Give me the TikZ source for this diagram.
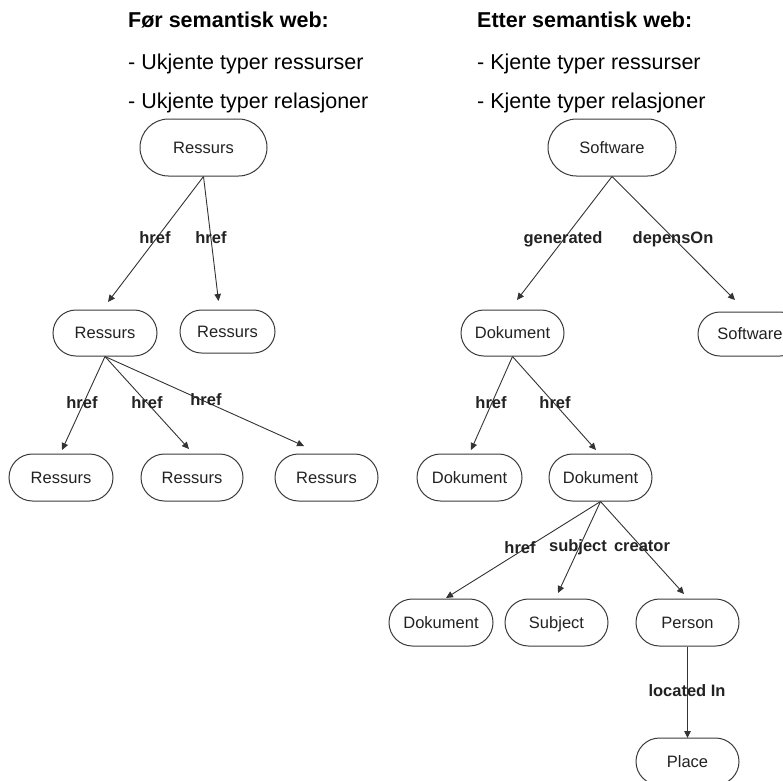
\documentclass[tikz,border=0pt]{standalone}
\usepackage{fontspec}
\setmainfont{Liberation Sans}
\usetikzlibrary{shapes.misc,arrows.meta}
\definecolor{linegray}{HTML}{333333}
\definecolor{boxgray}{HTML}{3A3A3A}
\definecolor{txtgray}{HTML}{222222}
\begin{document}
\begin{tikzpicture}[x=1pt,y=-1pt,
  heading/.style={anchor=west,inner sep=0pt,text height=15.4pt,text depth=0pt,
    font=\fontsize{21.5}{24}\selectfont},
  resbox/.style={rounded rectangle,draw=boxgray,line width=1pt,inner sep=0pt,
    text=txtgray,text height=11.8pt,text depth=0pt,
    font=\fontsize{16.5}{19}\selectfont},
  rel/.style={inner sep=0pt,text height=11.8pt,text depth=0pt,
    font=\fontsize{16.5}{19}\selectfont\bfseries,text=txtgray},
  link/.style={draw=linegray,line width=0.9pt,-{Triangle[length=7pt,width=6.5pt]}}]
\useasboundingbox (0,0) rectangle (783,780);

% headings
\node[heading,font=\fontsize{21.5}{24}\selectfont\bfseries] (h1) at (128,20) {Før semantisk web:};
\node[heading] (h2) at (128,61.5) {- Ukjente typer ressurser};
\node[heading] (h3) at (128,100.5) {- Ukjente typer relasjoner};
\node[heading,font=\fontsize{21.5}{24}\selectfont\bfseries] (h4) at (477,20) {Etter semantisk web:};
\node[heading] (h5) at (477,61.5) {- Kjente typer ressurser};
\node[heading] (h6) at (477,100.5) {- Kjente typer relasjoner};

% before: untyped resources
\node[resbox,minimum width=127pt,minimum height=57pt] (r0) at (203.5,147.5) {Ressurs};
\node[resbox,minimum width=104pt,minimum height=46pt] (r1) at (105,333) {Ressurs};
\node[resbox,minimum width=95pt,minimum height=43pt] (r2) at (227.5,331.5) {Ressurs};
\node[resbox,minimum width=104pt,minimum height=47pt] (r3) at (61,477.5) {Ressurs};
\node[resbox,minimum width=102pt,minimum height=47pt] (r4) at (192,477.5) {Ressurs};
\node[resbox,minimum width=103pt,minimum height=47pt] (r5) at (326.5,477.5) {Ressurs};

\coordinate (r1in) at (108,302);
\coordinate (r2in) at (218.5,301);
\coordinate (r3in) at (62,450);
\coordinate (r4in) at (189,449);
\coordinate (r5in) at (304,446);

\draw[link] (r0.south) -- (r1in);
\draw[link] (r0.south) -- (r2in);
\draw[link] (r1.south) -- (r3in);
\draw[link] (r1.south) -- (r4in);
\draw[link] (r1.south) -- (r5in);

\node[rel] (e1) at (155,238) {href};
\node[rel] (e2) at (211,238) {href};
\node[rel] (e3) at (82,403) {href};
\node[rel] (e4) at (147,403) {href};
\node[rel] (e5) at (206,400) {href};

% after: typed resources
\node[resbox,minimum width=128pt,minimum height=57pt] (s0) at (612,147.5) {Software};
\node[resbox,minimum width=103pt,minimum height=46pt] (d1) at (512.5,333) {Dokument};
\node[resbox,minimum width=104pt,minimum height=44pt] (s1) at (750,334) {Software};
\node[resbox,minimum width=105pt,minimum height=47pt] (d2) at (469.5,477.5) {Dokument};
\node[resbox,minimum width=103pt,minimum height=47pt] (d3) at (600.5,477.5) {Dokument};
\node[resbox,minimum width=104pt,minimum height=47pt] (d4) at (441,622.5) {Dokument};
\node[resbox,minimum width=103pt,minimum height=47pt] (sub) at (556.5,622.5) {Subject};
\node[resbox,minimum width=103pt,minimum height=47pt] (per) at (687.5,622.5) {Person};
\node[resbox,minimum width=103pt,minimum height=47pt] (pl) at (687.5,761.5) {Place};

\coordinate (d1in) at (517,300);
\coordinate (s1in) at (735,300);
\coordinate (d2in) at (471,450);
\coordinate (d3in) at (596,450);
\coordinate (d4in) at (446,598);
\coordinate (subin) at (558,593);
\coordinate (perin) at (684,594);
\coordinate (plin) at (687.5,738);

\draw[link] (s0.south) -- (d1in);
\draw[link] (s0.south) -- (s1in);
\draw[link] (d1.south) -- (d2in);
\draw[link] (d1.south) -- (d3in);
\draw[link] (d3.south) -- (d4in);
\draw[link] (d3.south) -- (subin);
\draw[link] (d3.south) -- (perin);
\draw[link] (per.south) -- (plin);

\node[rel] (f1) at (563,238) {generated};
\node[rel] (f2) at (673,238) {depensOn};
\node[rel] (f3) at (491,403) {href};
\node[rel] (f4) at (555,403) {href};
\node[rel] (f5) at (520,548) {href};
\node[rel] (f6) at (578,546) {subject};
\node[rel] (f7) at (642,546) {creator};
\node[rel] (f8) at (687,691) {located In};
\end{tikzpicture}
\end{document}
